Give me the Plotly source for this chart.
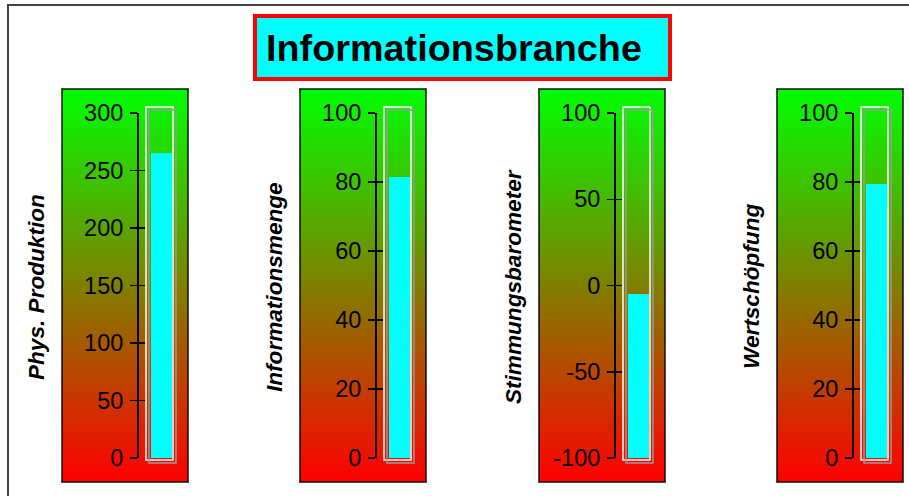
import plotly.graph_objects as go

# ---- data ----
categories = ["Phys. Produktion", "Informationsmenge", "Stimmungsbarometer", "Wertschöpfung"]
values = [265, 81.5, -5, 79.5]
axis_min = [0, 0, -100, 0]
axis_max = [300, 100, 100, 100]
tick_step = [50, 20, 50, 20]
title_text = "Informationsbranche"

# ---- layout geometry (pixels) ----
W, H = 909, 496
def px(x):
    return x / W
def py(y):
    return 1 - y / H

panel_left = [62, 300, 539, 777]
PW = 126
P_TOP, P_BOT = 89, 482
Y_MAX_PX, Y_MIN_PX = 113, 458
FONT = "Arial, Liberation Sans, sans-serif"

fig = go.Figure()
layout = dict(
    width=W, height=H, margin=dict(l=0, r=0, t=0, b=0, pad=0, autoexpand=False),
    paper_bgcolor="white", plot_bgcolor="rgba(0,0,0,0)",
    showlegend=False, font=dict(family=FONT, color="black"),
    bargap=0,
)
shapes = []
annotations = []

def ax(n):
    return "" if n == 1 else str(n)

for i, cat in enumerate(categories):
    L = panel_left[i]
    bg = 2 * i + 1
    dt = 2 * i + 2
    ov = 9 + i
    tv = list(range(axis_min[i], axis_max[i] + 1, tick_step[i]))
    tt = [str(v) for v in tv]
    # gradient background
    fig.add_trace(go.Scatter(
        x=[0, 1, 1, 0, 0], y=[0, 0, 1, 1, 0], fill="toself", mode="none",
        fillgradient=dict(type="vertical", colorscale=[[0, "#ff0000"], [1, "#00ff00"]]),
        xaxis="x" + ax(bg), yaxis="y" + ax(bg), hoverinfo="skip"))
    layout["xaxis" + ax(bg)] = dict(domain=[px(L), px(L + PW)], range=[0, 1], visible=False,
                                    anchor="y" + ax(bg), fixedrange=True, automargin=False)
    layout["yaxis" + ax(bg)] = dict(domain=[py(P_BOT), py(P_TOP)], range=[0, 1], visible=False,
                                    anchor="x" + ax(bg), fixedrange=True, automargin=False)
    # value bar
    fig.add_trace(go.Bar(
        x=[0], y=[values[i] - axis_min[i]], base=[axis_min[i]], width=[1],
        marker=dict(color="#00ffff", line=dict(width=0)),
        xaxis="x" + ax(dt), yaxis="y" + ax(dt), hoverinfo="skip"))
    axis_pos = px(L + 75)
    layout["xaxis" + ax(dt)] = dict(domain=[px(L + 78.5), px(L + 120.5)], range=[-1, 1],
                                    visible=False, anchor="y" + ax(dt), fixedrange=True,
                                    automargin=False)
    ycommon = dict(range=[axis_min[i], axis_max[i]], tickmode="array", tickvals=tv, ticktext=tt,
                   showgrid=False, zeroline=False, anchor="free", position=axis_pos,
                   fixedrange=True, automargin=False)
    layout["yaxis" + ax(dt)] = dict(
        domain=[py(Y_MIN_PX), py(Y_MAX_PX)], showline=True, linecolor="black", linewidth=1.5,
        ticks="outside", ticklen=7, tickwidth=1.5, tickcolor="black",
        tickfont=dict(size=23.5, family=FONT, color="black"), ticklabelstandoff=2,
        **ycommon)
    # overlay axis for ticks crossing the line
    fig.add_trace(go.Scatter(x=[0], y=[axis_min[i]], mode="markers", marker=dict(opacity=0),
                             xaxis="x" + ax(dt), yaxis="y" + ax(ov), hoverinfo="skip"))
    layout["yaxis" + ax(ov)] = dict(
        overlaying="y" + ax(dt), showline=False, ticks="inside", ticklen=7, tickwidth=1.5,
        tickcolor="black", showticklabels=False, **ycommon)
    # tube outlines
    shapes.append(dict(type="rect", xref="paper", yref="paper",
                       x0=px(L + 84), x1=px(L + 111), y0=py(460), y1=py(107),
                       line=dict(color="white", width=1.5), layer="above"))
    shapes.append(dict(type="rect", xref="paper", yref="paper",
                       x0=px(L + 87), x1=px(L + 114), y0=py(463), y1=py(110),
                       line=dict(color="#999999", width=1.5), layer="above"))
    # panel border
    shapes.append(dict(type="rect", xref="paper", yref="paper",
                       x0=px(L), x1=px(L + PW), y0=py(P_BOT), y1=py(P_TOP),
                       line=dict(color="rgba(0,0,0,0.7)", width=2), layer="above"))
    # axis title
    annotations.append(dict(text="<b><i>" + cat + "</i></b>", xref="paper", yref="paper",
                            x=px(L - 26), y=py(287), textangle=-90, showarrow=False,
                            xanchor="center", yanchor="middle",
                            font=dict(size=22.6, family=FONT, color="black")))

# outer frame
shapes.append(dict(type="rect", xref="paper", yref="paper",
                   x0=px(8), x1=px(W + 20), y0=py(H + 20), y1=py(5),
                   line=dict(color="#444444", width=2), layer="above"))
# title box
shapes.append(dict(type="rect", xref="paper", yref="paper",
                   x0=px(255), x1=px(670), y0=py(79), y1=py(16),
                   fillcolor="#00ffff", line=dict(color="#ff0000", width=4), layer="above"))
annotations.append(dict(text="<b>" + title_text + "</b>", xref="paper", yref="paper",
                        x=px(264), y=py(48), xanchor="left", yanchor="middle", showarrow=False,
                        font=dict(size=37.8, family=FONT, color="black")))

layout["shapes"] = shapes
layout["annotations"] = annotations
fig.update_layout(**layout)
fig.write_html("out.html", config={"displayModeBar": False, "staticPlot": True},
               post_script="document.body.style.margin='0';document.body.style.padding='0';"
                           "document.body.style.overflow='hidden';"
                           "document.documentElement.style.overflow='hidden';")
